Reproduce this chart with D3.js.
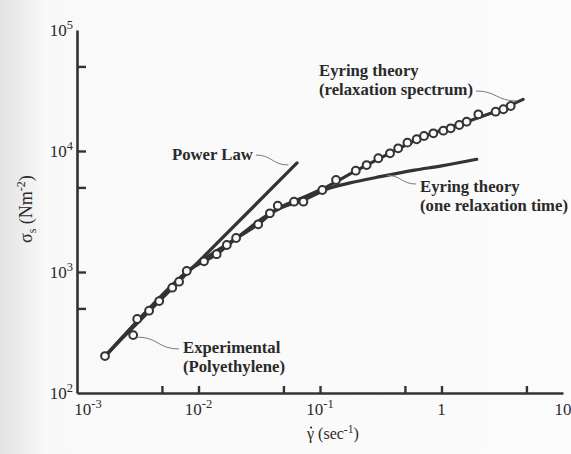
<!DOCTYPE html>
<html>
<head>
<meta charset="utf-8">
<script src="https://cdn.jsdelivr.net/npm/d3@7"></script>
<style>
  html, body { margin: 0; padding: 0; background: #f8f8f8; }
  svg { display: block; }
  text { font-family: "Liberation Serif", "Times New Roman", serif; fill: #2a2a2a; }
</style>
</head>
<body>
<svg id="chart" width="571" height="454"></svg>
<script>
// ---- data ----
const expRate   = [0.0017, 0.00313, 0.00392, 0.00475, 0.00608, 0.00692, 0.0080, 0.0111, 0.0141, 0.0171, 0.0204, 0.0310, 0.0387, 0.0449, 0.0611, 0.0730, 0.1045, 0.1355, 0.197, 0.242, 0.302, 0.377, 0.440, 0.524, 0.625, 0.718, 0.857, 1.035, 1.19, 1.40, 1.61, 2.01, 2.79, 3.23, 3.71];
const expStress = [202, 409, 479, 575, 742, 832, 1019, 1225, 1403, 1672, 1910, 2479, 3055, 3532, 3811, 3811, 4760, 5757, 6875, 7657, 8710, 9570, 10520, 11720, 12500, 13300, 14000, 14720, 15400, 16400, 17460, 20100, 21130, 22130, 23550];
const outlierRate = [0.0029];
const outlierStress = [301];

const powerRate   = [0.0017, 0.0647];
const powerStress = [204, 7960];

const spectrumRate   = [0.0017, 0.008, 0.0141, 0.0204, 0.031, 0.045, 0.065, 0.1045, 0.197, 0.377, 0.718, 1.4, 2.8, 4.7];
const spectrumStress = [200, 1000, 1400, 1880, 2480, 3350, 3950, 4850, 6850, 9600, 13200, 16600, 21300, 26700];

const oneTimeRate   = [0.0017, 0.008, 0.02, 0.035, 0.047, 0.073, 0.121, 0.2, 0.312, 0.6, 1.0, 1.95];
const oneTimeStress = [200, 1000, 1880, 2850, 3360, 3940, 4950, 5600, 6135, 6950, 7530, 8540];

const xTicks = [0.005, 0.01, 0.05, 0.1, 0.5, 1, 5];
const yTicks = [500, 1000, 5000, 10000, 50000];
const xTickLabels = [[0.001, "10", "-3"], [0.01, "10", "-2"], [0.1, "10", "-1"], [1, "1", ""], [10, "10", ""]];
const yTickLabels = [[100, "10", "2"], [1000, "10", "3"], [10000, "10", "4"], [100000, "10", "5"]];

// ---- scales ----
const svg = d3.select("#chart");
const x = d3.scaleLog().domain([0.001, 10]).range([77, 563]);
const y = d3.scaleLog().domain([100, 100000]).range([393, 30]);
const ink = "#333333";

// background: scan tone with darker left edge
const defs = svg.append("defs");
const grad = defs.append("linearGradient").attr("id", "bg").attr("x1", 0).attr("x2", 1);
grad.append("stop").attr("offset", "0").attr("stop-color", "#e2e2e2");
grad.append("stop").attr("offset", "0.035").attr("stop-color", "#ececec");
grad.append("stop").attr("offset", "0.08").attr("stop-color", "#f9f9f9");
grad.append("stop").attr("offset", "1").attr("stop-color", "#fbfbfb");
svg.append("rect").attr("width", 571).attr("height", 454).attr("fill", "url(#bg)");

// ---- axes ----
const xAxis = d3.axisBottom(x).tickValues(xTicks).tickSizeInner(-7).tickSizeOuter(0).tickFormat("");
const yAxis = d3.axisLeft(y).tickValues(yTicks).tickSizeInner(-9).tickSizeOuter(0).tickFormat("");
const gx = svg.append("g").attr("transform", "translate(0,393)").call(xAxis);
const gy = svg.append("g").attr("transform", "translate(77,0)").call(yAxis);
[gx, gy].forEach(g => {
  g.select(".domain").attr("stroke", ink).attr("stroke-width", 2.6);
  g.selectAll(".tick line").attr("stroke", ink).attr("stroke-width", 2.4);
});

// x tick labels
xTickLabels.forEach(([v, base, sup], i) => {
  const t = svg.append("text").attr("y", 415).attr("font-size", 17);
  t.append("tspan").text(base);
  if (sup) t.append("tspan").attr("dy", -7).attr("font-size", 12.5).text(sup);
  const w = t.node().getComputedTextLength();
  const cx = x(v) + (i === 0 ? 11 : 0);
  t.attr("x", cx - w / 2);
});
// y tick labels
yTickLabels.forEach(([v, base, sup]) => {
  const t = svg.append("text").attr("y", y(v) + 6).attr("font-size", 17);
  t.append("tspan").text(base);
  t.append("tspan").attr("dy", -7).attr("font-size", 12.5).text(sup);
  const w = t.node().getComputedTextLength();
  t.attr("x", 73 - w);
});

// axis titles
const xt = svg.append("text").attr("x", 307).attr("y", 439).attr("font-size", 16);
xt.append("tspan").text("\u03B3 (sec");
xt.append("tspan").attr("dy", -6).attr("font-size", 11.5).text("-1");
xt.append("tspan").attr("dy", 6).text(")");
const g0 = xt.node().getExtentOfChar(0);
svg.append("circle").attr("cx", g0.x + g0.width / 2 + 0.5).attr("cy", 427.5).attr("r", 1.1).attr("fill", "#2a2a2a");

const yt = svg.append("text").attr("transform", "translate(32,243) rotate(-90)").attr("font-size", 18);
yt.append("tspan").text("\u03C3");
yt.append("tspan").attr("dy", 4).attr("font-size", 12).text("s");
yt.append("tspan").attr("dy", -4).text(" (Nm");
yt.append("tspan").attr("dy", -7).attr("font-size", 12).text("-2");
yt.append("tspan").attr("dy", 7).text(")");

// ---- lines ----
const line = d3.line().x(d => x(d[0])).y(d => y(d[1])).curve(d3.curveCatmullRom.alpha(0.5));
const toPts = (a, b) => a.map((v, i) => [v, b[i]]);
const lineG = svg.append("g").attr("fill", "none").attr("stroke", ink).attr("stroke-width", 3.2).attr("stroke-linecap", "round");
lineG.append("path").attr("d", line(toPts(powerRate, powerStress)));
lineG.append("path").attr("d", line(toPts(oneTimeRate, oneTimeStress)));
lineG.append("path").attr("d", line(toPts(spectrumRate, spectrumStress)));

// ---- experimental points ----
const ptsG = svg.append("g");
ptsG.selectAll("circle.exp").data(toPts(expRate, expStress).concat(toPts(outlierRate, outlierStress)))
  .join("circle").attr("class", "exp")
  .attr("cx", d => x(d[0])).attr("cy", d => y(d[1])).attr("r", 3.9)
  .attr("fill", "#fafafa").attr("stroke", ink).attr("stroke-width", 2);

// ---- labels ----
function label(lines, lx, ly) {
  const t = svg.append("text").attr("font-size", 16.7).attr("font-weight", "bold");
  lines.forEach((s, i) => t.append("tspan").attr("x", lx).attr("y", ly + i * 19).text(s));
  return t;
}
const lp = label(["Power Law"], 172, 160);
const le = label(["Experimental", "(Polyethylene)"], 183, 353);
const ls = label(["Eyring theory", "(relaxation spectrum)"], 319, 76);
const lo = label(["Eyring theory", "(one relaxation time)"], 420, 192);

// leaders: thin S-curves from label to a data location
const leadG = svg.append("g").attr("fill", "none").attr("stroke", "#7a7a7a").attr("stroke-width", 1);
function leader(x0, y0, x1, y1) {
  const mx = (x0 + x1) / 2;
  leadG.append("path").attr("d", `M${x0},${y0} C${mx},${y0} ${mx},${y1} ${x1},${y1}`);
}
const lpb = lp.node().getBBox();
leader(lpb.x + lpb.width + 3, 155, x(0.055), y(7660));
leader(x(outlierRate[0]) + 4, y(outlierStress[0]) + 2, 179, 349);
const lsb = ls.node().getBBox();
leader(lsb.x + lsb.width + 3, 91, x(4.18), y(25900));
leader(x(0.354), y(6300), 416, 184);
</script>
</body>
</html>
